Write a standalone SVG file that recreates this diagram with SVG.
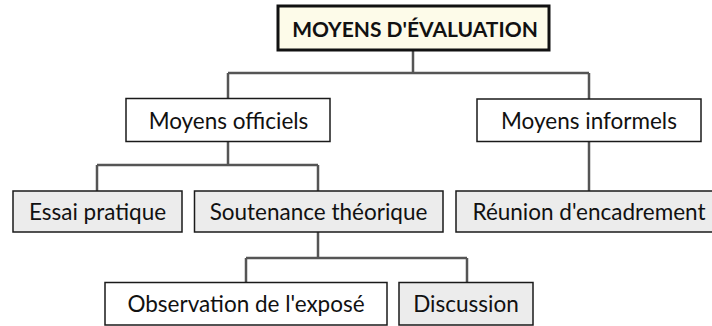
<svg xmlns="http://www.w3.org/2000/svg" width="712" height="326" viewBox="0 0 712 326">
  <style>
    .box { stroke: #1a1a1a; stroke-width: 1.5; }
    .plain { fill: #ffffff; }
    .grey { fill: #ececec; }
    .root { fill: #fdfbe9; stroke: #111111; stroke-width: 3; }
    .lbl { font-family: "Lato", "Open Sans", sans-serif; font-size: 22.5px; fill: #111111; text-anchor: middle; dominant-baseline: central; }
    .title { font-weight: bold; font-size: 21px; }
    .wire { fill: none; stroke: #555555; stroke-width: 2.5; }
  </style>
  <rect x="0" y="0" width="712" height="326" fill="#ffffff"/>

  <g id="connectors">
    <path class="wire" d="M413 50 V73 M228 73 H589 M228 73 V98 M589 73 V99"/>
    <path class="wire" d="M228 141 V165 M97 165 H318 M97 165 V191 M318 165 V191"/>
    <path class="wire" d="M589 141 V191"/>
    <path class="wire" d="M318 232 V258 M246 258 H467 M246 258 V282 M467 258 V282"/>
  </g>

  <g id="moyens-evaluation">
    <rect class="root" x="278" y="6" width="271" height="44"/>
    <text class="lbl title" x="415" y="28.5">MOYENS D'ÉVALUATION</text>
  </g>
  <g id="moyens-officiels">
    <rect class="box plain" x="126" y="98.5" width="204" height="43"/>
    <text class="lbl" x="228.5" y="120">Moyens officiels</text>
  </g>
  <g id="moyens-informels">
    <rect class="box plain" x="477" y="99" width="224" height="42.5"/>
    <text class="lbl" x="589" y="120">Moyens informels</text>
  </g>
  <g id="essai-pratique">
    <rect class="box grey" x="13" y="191" width="169" height="41"/>
    <text class="lbl" x="97.5" y="211.5">Essai pratique</text>
  </g>
  <g id="soutenance-theorique">
    <rect class="box grey" x="194.5" y="191" width="248.5" height="41"/>
    <text class="lbl" x="318.5" y="211.5">Soutenance théorique</text>
  </g>
  <g id="reunion-encadrement">
    <rect class="box grey" x="456" y="191" width="266" height="41"/>
    <text class="lbl" x="589" y="211.5">Réunion d'encadrement</text>
  </g>
  <g id="observation-expose">
    <rect class="box plain" x="105" y="282.5" width="282" height="42.5"/>
    <text class="lbl" x="246" y="303.5">Observation de l'exposé</text>
  </g>
  <g id="discussion">
    <rect class="box grey" x="399" y="282.5" width="134" height="42.5"/>
    <text class="lbl" x="466" y="303.5">Discussion</text>
  </g>
</svg>
